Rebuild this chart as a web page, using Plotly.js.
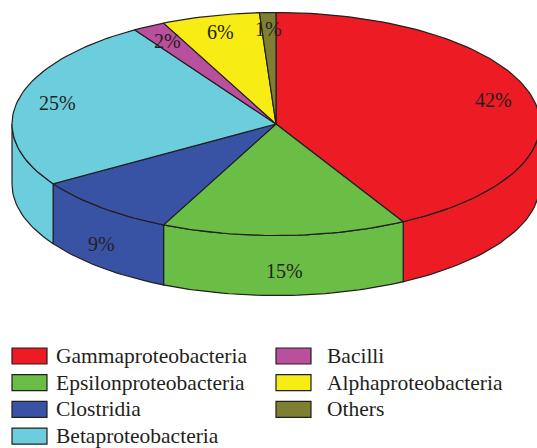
<!DOCTYPE html>
<html>
<head>
<meta charset="utf-8">
<script src="https://cdn.plot.ly/plotly-3.0.1.min.js"></script>
<style>html,body{margin:0;padding:0;background:#fff;}#chart{width:537px;height:448px;}</style>
</head>
<body>
<div id="chart"></div>
<script>
// ---- data ----
const categories = ["Gammaproteobacteria","Epsilonproteobacteria","Clostridia","Betaproteobacteria","Bacilli","Alphaproteobacteria","Others"];
const shares = [42, 15, 9, 25, 2, 6, 1];
const colors = ["#ED1C24","#6ABD45","#3953A4","#6CCDDC","#B8509E","#F7EC13","#7F7F33"];

// ---- geometry (layout settings) ----
const W = 537, H = 448;
const cx = 276, cy = 124, rx = 264, ry = 111.5, depth = 60;
const edge = "#231F20";
const fontFam = "Liberation Serif, Times New Roman, serif";

const total = shares.reduce((a,b)=>a+b,0);
const rad = d => d*Math.PI/180;
const px = (t, r=1) => cx + rx*r*Math.sin(rad(t));
const py = (t, r=1) => cy - ry*r*Math.cos(rad(t));

function arc(a, b, dy) {
  const n = Math.max(4, Math.ceil(Math.abs(b-a)/1.5));
  const xs=[], ys=[];
  for (let i=0;i<=n;i++){ const t=a+(b-a)*i/n; xs.push(px(t)); ys.push(py(t)+dy); }
  return [xs, ys];
}

const sideTraces = [];
const topTraces = [];
const annotations = [];
let start = 0;
shares.forEach((v, i) => {
  const span = v/total*360;
  const a = start, b = start + span;
  // side face (visible front half: 90..270)
  const s1 = Math.max(a, 90), s2 = Math.min(b, 270);
  if (s2 > s1) {
    const [tx, ty] = arc(s1, s2, 0);
    const [bx, by] = arc(s2, s1, depth);
    sideTraces.push({
      type:"scatter", mode:"lines", x:[...tx, ...bx, tx[0]], y:[...ty, ...by, ty[0]],
      fill:"toself", fillcolor:colors[i], line:{color:edge, width:1.2},
      hoverinfo:"skip", showlegend:false
    });
  }
  // top face
  const [ax, ay] = arc(a, b, 0);
  topTraces.push({
    type:"scatter", mode:"lines", x:[cx, ...ax, cx], y:[cy, ...ay, cy],
    fill:"toself", fillcolor:colors[i], line:{color:edge, width:1.2},
    hoverinfo:"skip", showlegend:false, name:categories[i]
  });
  // label
  const mid = (a+b)/2;
  let lx, ly;
  if (mid > 150 && mid < 250) { lx = px(mid); ly = py(mid) + depth*0.6; }
  else { lx = px(mid, 0.85); ly = py(mid, 0.85); }
  annotations.push({x:lx, y:ly, xref:"x", yref:"y", text:v+"%", showarrow:false,
    font:{family:fontFam, size:20, color:edge}, xanchor:"center", yanchor:"middle"});
  start = b;
});

// ---- legend (two columns, drawn as shapes + text) ----
const shapes = [];
const legX = [12, 276], legY0 = 356, legDy = 26.7, boxW = 35, boxH = 16;
categories.forEach((c, i) => {
  const col = Math.floor(i/4), row = i%4;
  const x0 = legX[col], yc = legY0 + row*legDy;
  shapes.push({type:"rect", xref:"x", yref:"y", x0:x0, x1:x0+boxW, y0:yc-boxH/2, y1:yc+boxH/2,
    fillcolor:colors[i], line:{color:edge, width:1.2}});
  annotations.push({x:x0+boxW+(col?14:7), y:yc, xref:"x", yref:"y", text:c, showarrow:false,
    xanchor:"left", yanchor:"middle", font:{family:fontFam, size:21.5, color:edge}});
});

const layout = {
  width:W, height:H, margin:{l:0,r:0,t:0,b:0},
  paper_bgcolor:"#fff", plot_bgcolor:"#fff",
  xaxis:{range:[0,W], visible:false, fixedrange:true},
  yaxis:{range:[H,0], visible:false, fixedrange:true},
  showlegend:false, shapes:shapes, annotations:annotations, hovermode:false
};

Plotly.newPlot("chart", [...sideTraces, ...topTraces], layout, {staticPlot:true});
</script>
</body>
</html>
